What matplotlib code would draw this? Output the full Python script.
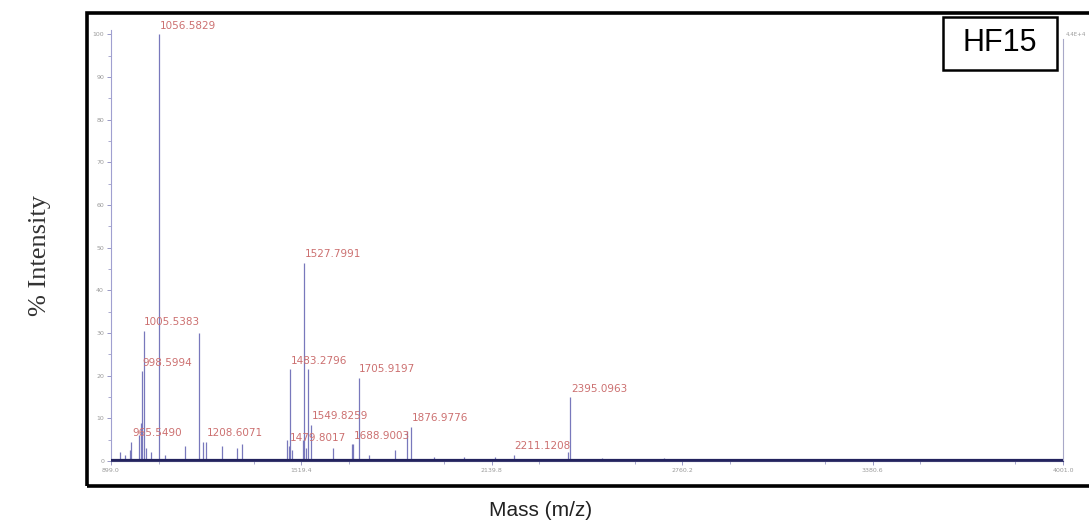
import numpy as np
import matplotlib.pyplot as plt
from matplotlib.patches import Rectangle

# labelled peaks (m/z, % intensity)
label_mz = [965.5490, 998.5994, 1005.5383, 1056.5829, 1208.6071, 1479.8017,
            1483.2796, 1527.7991, 1549.8259, 1688.9003, 1705.9197, 1876.9776,
            2211.1208, 2395.0963]
label_int = [4.5, 21, 30.5, 100, 4.5, 3.5, 21.5, 46.5, 8.5, 4, 19.5, 8, 1.5, 15]

# unlabelled peaks
other_mz = [928, 945, 961, 990, 997, 1012, 1030, 1075, 1140, 1186, 1199, 1261,
            1309, 1326, 1472, 1490, 1524.5, 1535, 1540.8, 1622, 1684, 1740,
            1824, 1863, 1950, 2050, 2150, 2388, 2500, 2700]
other_int = [2, 1.5, 2.5, 6, 9, 3, 2, 1.5, 3.5, 30, 4.5, 3.5,
             3, 4, 5, 2.5, 5, 3, 21.5, 3, 4, 1.5,
             2.5, 7, 1, 1, 1, 2, 0.8, 0.6]

x_ticks = [899.0, 1519.4, 2139.8, 2760.2, 3380.6, 4001.0]
y_ticks = [0, 10, 20, 30, 40, 50, 60, 70, 80, 90, 100]

peak_color = '#7878bc'
label_color = '#cc7070'
tick_color = '#9a9a9a'


def draw_spectrum(ax):
    ax.vlines(other_mz, 0, other_int, color=peak_color, lw=0.9)
    ax.vlines(label_mz, 0, label_int, color=peak_color, lw=0.9)
    for mz, h in zip(label_mz, label_int):
        ax.text(mz + 2, h + 0.8, f'{mz:.4f}', color=label_color,
                fontsize=7.5, ha='left', va='bottom')
    ax.axhline(0.3, color='#23235e', lw=1.6, zorder=3)


def main():
    fig = plt.figure(figsize=(10.89, 5.24), dpi=100)
    ax = fig.add_axes([111 / 1089, 1 - 461 / 524, (1063 - 111) / 1089, (461 - 30) / 524])
    draw_spectrum(ax)
    ax.set_xlim(899.0, 4001.0)
    ax.set_ylim(0, 101)
    ax.set_xticks(x_ticks)
    ax.set_xticklabels([f'{t:.1f}' for t in x_ticks])
    ax.set_yticks(y_ticks)
    ax.set_yticks(np.arange(5, 100, 10), minor=True)
    ax.set_xticks(np.arange(899.0 + 155.1, 4001.0, 310.2), minor=True)
    ax.tick_params(labelsize=4.5, labelcolor=tick_color, color='#8888bb',
                   length=3, width=0.6, pad=2)
    ax.tick_params(which='minor', length=2, width=0.5, color='#8888bb')
    ax.spines['top'].set_visible(False)
    ax.spines['left'].set_color('#a0a0d0')
    ax.spines['right'].set_color('#a8a8c8')
    ax.spines['right'].set_bounds(0, 99)
    ax.spines['bottom'].set_color('#3a3a70')
    for s in ax.spines.values():
        s.set_linewidth(0.8)
    fig.text(1066 / 1089, 1 - 34 / 524, '4.4E+4', fontsize=4,
             color=tick_color, ha='left', va='center')

    # outer frame of the scan
    fig.add_artist(Rectangle((87 / 1089, 1 - 486 / 524), 1.1, (486 - 13) / 524,
                             transform=fig.transFigure, fill=False, lw=2.6,
                             ec='black', clip_on=False))
    # sample tag
    fig.add_artist(Rectangle((943 / 1089, 1 - 70 / 524), 114 / 1089, 53 / 524,
                             transform=fig.transFigure, fill=False, lw=1.8,
                             ec='black', fc='white'))
    fig.text(1000 / 1089, 1 - 43 / 524, 'HF15', fontsize=22, family='Liberation Sans',
             ha='center', va='center')

    fig.text(40 / 1089, 1 - 255 / 524, '% Intensity', rotation=90, fontsize=19,
             family='Liberation Serif', ha='center', va='center', color='#333333')
    fig.text(541 / 1089, 1 - 511 / 524, 'Mass (m/z)', fontsize=15,
             family='Liberation Sans', ha='center', va='center', color='#222222')

    fig.savefig('out.png', dpi=100)


if __name__ == "__main__":
    main()
